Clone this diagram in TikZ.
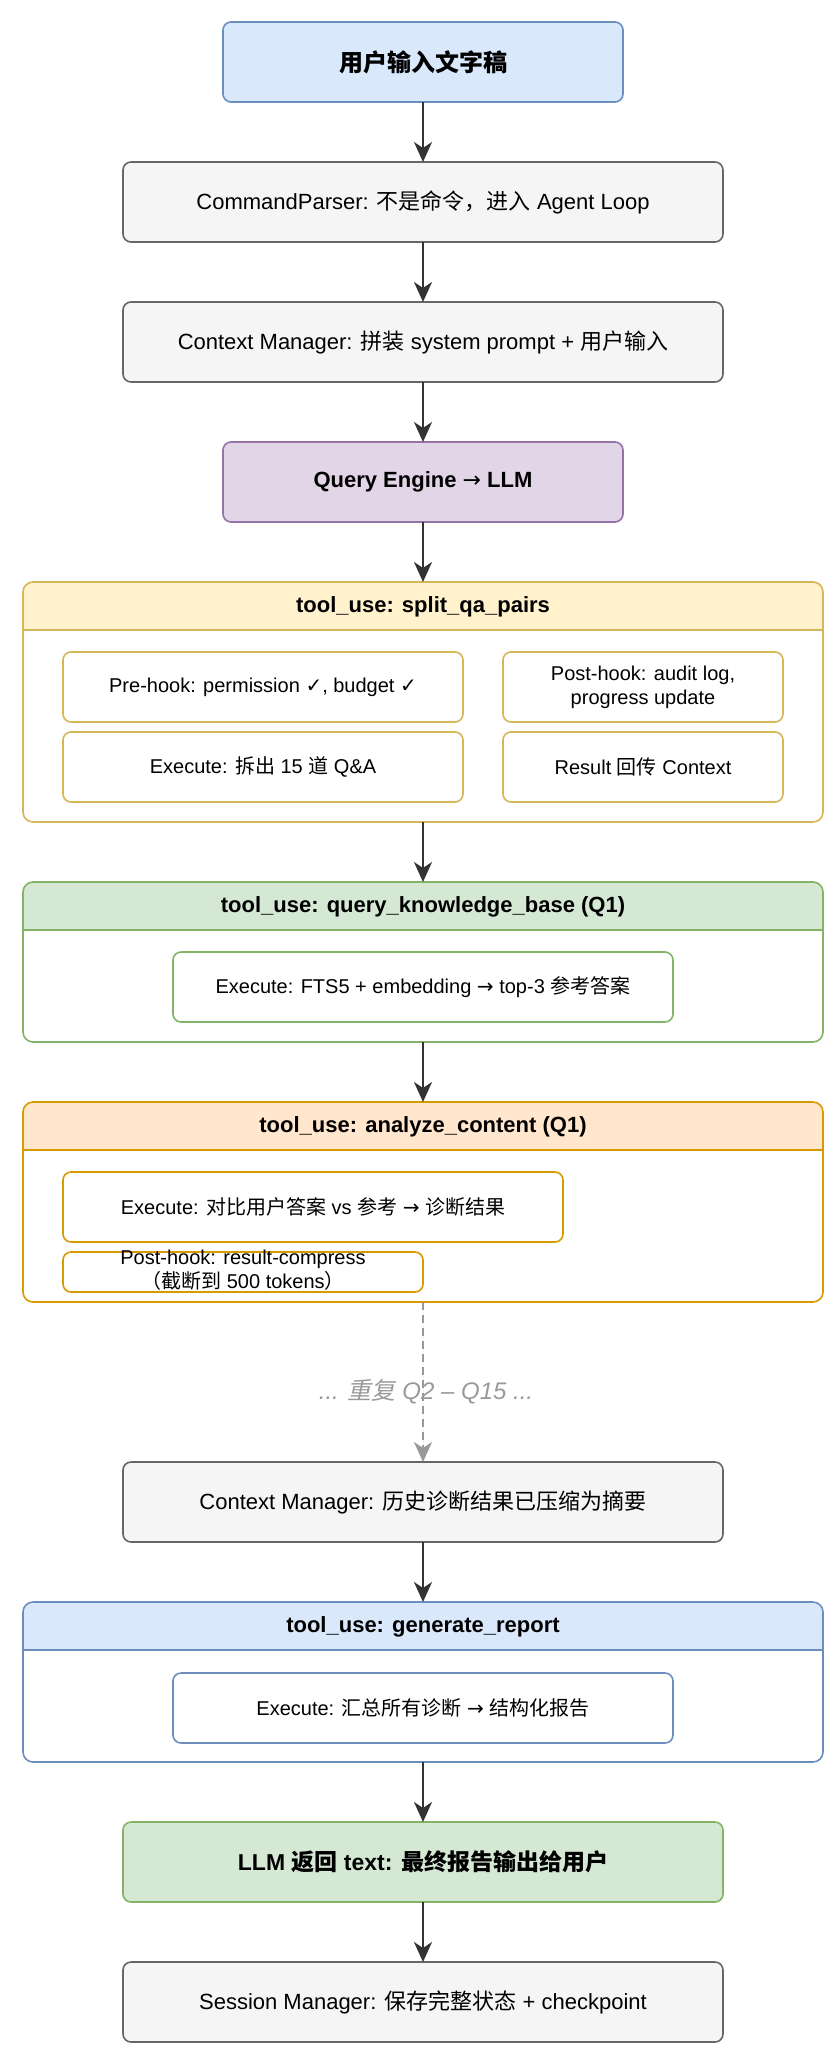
\documentclass[tikz,border=0pt]{standalone}
\usepackage{fontspec}
\setmainfont{Liberation Sans}
\newfontfamily\cjk{Noto Sans CJK SC}
\newfontfamily\cjkslant{Noto Sans CJK SC}[FakeSlant=0.2]
\newfontfamily\symfont{DejaVu Sans}
\newcommand{\zh}[1]{{\cjk #1}}
\newcommand{\zhit}[1]{{\cjkslant #1}}
\newcommand{\ok}{{\symfont ✓}}
\newcommand{\ra}{{\symfont\mdseries →}}
\usetikzlibrary{arrows.meta,positioning}

\definecolor{bluefill}{HTML}{DAE8FC}
\definecolor{blueline}{HTML}{6C8EBF}
\definecolor{grayfill}{HTML}{F5F5F5}
\definecolor{grayline}{HTML}{666666}
\definecolor{purplefill}{HTML}{E1D5E7}
\definecolor{purpleline}{HTML}{9673A6}
\definecolor{yellowfill}{HTML}{FFF2CC}
\definecolor{yellowline}{HTML}{D6B656}
\definecolor{greenfill}{HTML}{D5E8D4}
\definecolor{greenline}{HTML}{82B366}
\definecolor{orangefill}{HTML}{FFE6CC}
\definecolor{orangeline}{HTML}{D79B00}
\definecolor{arrowgray}{HTML}{333333}
\definecolor{loopgray}{HTML}{999999}

\tikzset{
    box/.style={draw=#1line, fill=#1fill, rounded corners=4pt, line width=0.8pt,
        inner sep=0pt, outer sep=0pt, minimum height=40pt, align=center,
        font=\fontsize{11}{13}\selectfont},
    inbox/.style={draw=#1line, fill=white, rounded corners=4pt, line width=0.8pt,
        inner sep=0pt, outer sep=0pt, minimum height=35pt, align=center,
        font=\fontsize{10}{12}\selectfont},
    lane/.style={draw=#1line, fill=white, rounded corners=5pt, line width=0.8pt,
        inner sep=0pt, outer sep=0pt, minimum width=400pt,
        path picture={
            \fill[#1fill, sharp corners] (path picture bounding box.north west)
                rectangle ([yshift=-24pt]path picture bounding box.north east);
            \draw[#1line, line width=0.8pt, sharp corners]
                ([yshift=-24pt]path picture bounding box.north west)
                -- ([yshift=-24pt]path picture bounding box.north east);
        }},
    lanetitle/.style={inner sep=0pt, minimum height=24pt,
        font=\bfseries\fontsize{11}{13}\selectfont},
    flow/.style={-{Stealth[length=10pt,width=9pt,inset=3pt]}, line width=1.2pt, draw=arrowgray, fill=arrowgray},
}

\begin{document}
\begin{tikzpicture}[x=0.5pt, y=-0.5pt]
    \useasboundingbox (0,0) rectangle (835,2056);

    \node[box=blue, minimum width=200pt, font=\bfseries\fontsize{12}{14}\selectfont] (input) at (423,62) {\zh{用户输入文字稿}};
    \node[box=gray, minimum width=300pt] (parser) at (423,202) {CommandParser: \zh{不是命令，进入} Agent Loop};
    \node[box=gray, minimum width=300pt] (ctx) at (423,342) {Context Manager: \zh{拼装} system prompt + \zh{用户输入}};
    \node[box=purple, minimum width=200pt, font=\bfseries\fontsize{11}{13}\selectfont] (engine) at (423,482) {Query Engine \ra{} LLM};

    % split_qa_pairs
    \node[lane=yellow, minimum height=120pt] (split) at (423,702) {};
    \node[lanetitle, below=0pt of split.north] (splitt) {tool\_use: split\_qa\_pairs};
    \node[inbox=yellow, minimum width=200pt] (prehook) at (263,687) {Pre-hook: permission \ok, budget \ok};
    \node[inbox=yellow, minimum width=140pt] (posthook) at (643,687) {Post-hook: audit log,\\progress update};
    \node[inbox=yellow, minimum width=200pt] (splitexec) at (263,767) {Execute: \zh{拆出} 15 \zh{道} Q\&A};
    \node[inbox=yellow, minimum width=140pt] (result) at (643,767) {Result \zh{回传} Context};

    % query_knowledge_base
    \node[lane=green, minimum height=80pt] (kb) at (423,962) {};
    \node[lanetitle, below=0pt of kb.north] (kbt) {tool\_use: query\_knowledge\_base (Q1)};
    \node[inbox=green, minimum width=250pt] (kbexec) at (423,987) {Execute: FTS5 + embedding \ra{} top-3 \zh{参考答案}};

    % analyze_content
    \node[lane=orange, minimum height=100pt] (ana) at (423,1202) {};
    \node[lanetitle, below=0pt of ana.north] (anat) {tool\_use: analyze\_content (Q1)};
    \node[inbox=orange, minimum width=250pt] (anaexec) at (313,1207) {Execute: \zh{对比用户答案} vs \zh{参考} \ra{} \zh{诊断结果}};
    \node[inbox=orange, minimum width=180pt, minimum height=20pt] (compress) at (243,1272) {};
    \node[inner sep=0pt, align=center, font=\fontsize{10}{12}\selectfont] (compresst) at (243,1270) {Post-hook: result-compress\\\zh{（截断到} 500 tokens\zh{）}};

    \node[box=gray, minimum width=300pt] (hist) at (423,1502) {Context Manager: \zh{历史诊断结果已压缩为摘要}};
    \node[inner sep=0pt, text=loopgray, font=\itshape\fontsize{12}{14}\selectfont] (repeat) at (426,1392) {... \zhit{重复} Q2 – Q15 ...};

    % generate_report
    \node[lane=blue, minimum height=80pt] (report) at (423,1682) {};
    \node[lanetitle, below=0pt of report.north] (reportt) {tool\_use: generate\_report};
    \node[inbox=blue, minimum width=250pt] (reportexec) at (423,1708) {Execute: \zh{汇总所有诊断} \ra{} \zh{结构化报告}};

    \node[box=green, minimum width=300pt, font=\bfseries\fontsize{11.5}{13}\selectfont] (reply) at (423,1862) {LLM \zh{返回} text: \zh{最终报告输出给用户}};
    \node[box=gray, minimum width=300pt] (session) at (423,2002) {Session Manager: \zh{保存完整状态} + checkpoint};

    \draw[flow] (input.south) -- (parser.north);
    \draw[flow] (parser.south) -- (ctx.north);
    \draw[flow] (ctx.south) -- (engine.north);
    \draw[flow] (engine.south) -- (split.north);
    \draw[flow] (split.south) -- (kb.north);
    \draw[flow] (kb.south) -- (ana.north);
    \draw[flow, draw=loopgray, fill=loopgray, dash pattern=on 4pt off 2.5pt] (ana.south) -- (hist.north);
    \draw[flow] (hist.south) -- (report.north);
    \draw[flow] (report.south) -- (reply.north);
    \draw[flow] (reply.south) -- (session.north);
\end{tikzpicture}
\end{document}
